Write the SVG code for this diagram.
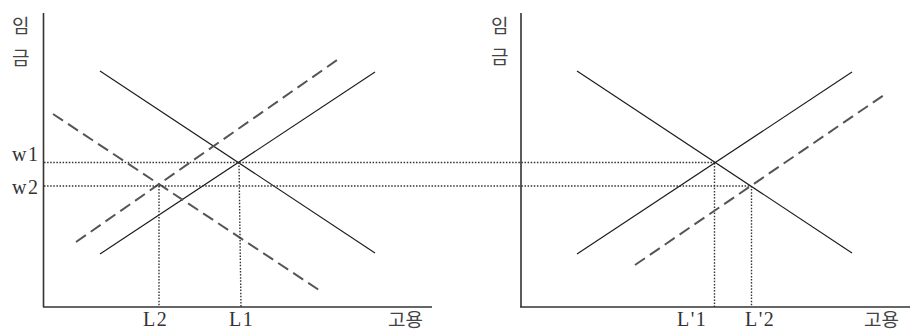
<svg xmlns="http://www.w3.org/2000/svg" width="912" height="331" viewBox="0 0 912 331">
<style>
.axis{stroke:#333;stroke-width:1.6;fill:none}
.solid{stroke:#1a1a1a;stroke-width:1.1;fill:none}
.dash{stroke:#555;stroke-width:2;stroke-dasharray:12 6;fill:none}
.dot{stroke:#333;stroke-width:1.4;stroke-dasharray:1.5 1.6;fill:none}
.lat{font-family:"Liberation Serif","DejaVu Serif",serif;font-size:20px;fill:#333;letter-spacing:1.5px}
.kor{font-family:"Noto Sans CJK KR","Noto Sans",sans-serif;font-size:19px;fill:#444}
</style>
<rect width="912" height="331" fill="#fff"/>
<g id="left-panel">
  <g id="left-axes">
    <line class="axis" x1="43.5" y1="13" x2="43.5" y2="307"/>
    <line class="axis" x1="43" y1="307" x2="432" y2="307"/>
    <text class="kor" x="12" y="33">임</text>
    <text class="kor" x="12" y="65">금</text>
    <text class="kor" x="388" y="327">고용</text>
  </g>
  <g id="left-curves">
    <line class="solid" x1="100" y1="71" x2="375" y2="253"/>
    <line class="solid" x1="100" y1="254" x2="375" y2="72"/>
    <line class="dash" x1="76" y1="242" x2="340" y2="58"/>
    <line class="dash" x1="53" y1="114" x2="322" y2="292"/>
  </g>
  <g id="left-labels">
    <text class="lat" x="12" y="161">w1</text>
    <text class="lat" x="12" y="194">w2</text>
    <text class="lat" x="143" y="326">L2</text>
    <text class="lat" x="229" y="326">L1</text>
  </g>
</g>
<g id="connectors">
  <line class="dot" x1="44" y1="162.5" x2="714" y2="162.5"/>
  <line class="dot" x1="44" y1="186" x2="751" y2="186"/>
  <line class="dot" x1="159" y1="186" x2="159" y2="307"/>
  <line class="dot" x1="239" y1="162.5" x2="241" y2="307"/>
  <line class="dot" x1="714.5" y1="163" x2="714.5" y2="307"/>
  <line class="dot" x1="751.5" y1="186" x2="751.5" y2="307"/>
</g>
<g id="right-panel">
  <g id="right-axes">
    <line class="axis" x1="521" y1="13" x2="521" y2="307"/>
    <line class="axis" x1="520" y1="307" x2="910" y2="307"/>
    <text class="kor" x="491" y="33">임</text>
    <text class="kor" x="491" y="64">금</text>
    <text class="kor" x="864" y="327">고용</text>
  </g>
  <g id="right-curves">
    <line class="solid" x1="577" y1="71" x2="852" y2="253"/>
    <line class="solid" x1="577" y1="254" x2="852" y2="72"/>
    <line class="dash" x1="635" y1="265" x2="884" y2="95"/>
  </g>
  <g id="right-labels">
    <text class="lat" x="677" y="326">L'1</text>
    <text class="lat" x="745" y="326">L'2</text>
  </g>
</g>
</svg>
